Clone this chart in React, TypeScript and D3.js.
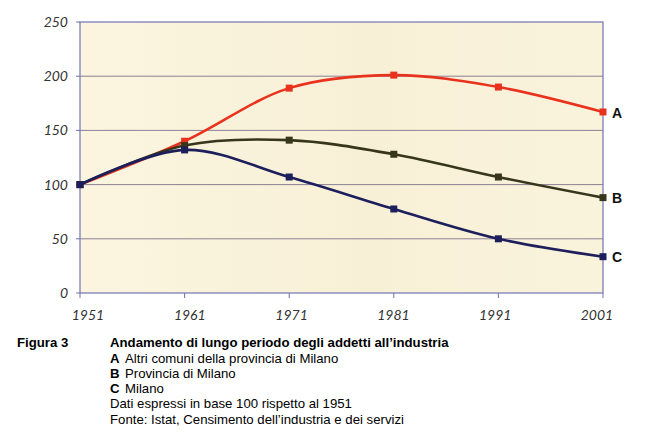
import React from "react";
import * as d3 from "d3";

const years = [1951, 1961, 1971, 1981, 1991, 2001];
const seriesA = [100, 140, 189, 201, 190, 167];
const seriesB = [100, 136, 141, 128, 107, 88];
const seriesC = [100, 132, 107, 77.5, 50, 33.5];
const seriesLabels = ["A", "B", "C"];
const yTicks = [0, 50, 100, 150, 200, 250];
const captionFig = "Figura 3";
const captionTitle = "Andamento di lungo periodo degli addetti all\u2019industria";
const legendNames = ["Altri comuni della provincia di Milano", "Provincia di Milano", "Milano"];
const notes = ["Dati espressi in base 100 rispetto al 1951", "Fonte: Istat, Censimento dell\u2019industria e dei servizi"];

const colors = ["#e8321e", "#36361a", "#1c1f5c"];

export default function App() {
  const W = 650, H = 439;
  const left = 80, right = 603, top = 22, bottom = 293;
  const x = d3.scaleLinear().domain([1951, 2001]).range([left, right]);
  const y = d3.scaleLinear().domain([0, 250]).range([bottom, top]);
  const line = d3
    .line<number>()
    .x((_, i) => x(years[i]))
    .y((d) => y(d))
    .curve(d3.curveCatmullRom.alpha(0.5));
  const all = [seriesA, seriesB, seriesC];
  const tickFont = "Lato, 'Open Sans', sans-serif";
  const capFont = "'Liberation Sans', Arial, sans-serif";
  return (
    <svg width={W} height={H} style={{ position: "absolute", left: 0, top: 0, background: "#fff" }}>
      <defs>
        <linearGradient id="bg" x1="0" y1="0" x2="1" y2="0">
          <stop offset="0" stopColor="#fbf5e0" />
          <stop offset="0.55" stopColor="#f8f0d6" />
          <stop offset="1" stopColor="#faf3dc" />
        </linearGradient>
      </defs>
      <rect x={left} y={top} width={right - left} height={bottom - top} fill="url(#bg)" />
      {yTicks.map((t) => (
        <g key={t}>
          {t > 0 && t < 250 && (
            <line x1={left} x2={right} y1={y(t)} y2={y(t)} stroke="#8c8096" strokeWidth={1} />
          )}
          <line x1={left - 4} x2={left} y1={y(t)} y2={y(t)} stroke="#7070b0" strokeWidth={1} />
          <text
            x={68}
            y={y(t)}
            dy="0.35em"
            textAnchor="end"
            fontFamily={tickFont}
            fontStyle="italic"
            fontSize={14}
            fill="#333"
          >
            {t}
          </text>
        </g>
      ))}
      <rect x={left} y={top} width={right - left} height={bottom - top} fill="none" stroke="#7474b4" strokeWidth={1.2} />
      {years.map((yr) => (
        <g key={yr}>
          <line x1={x(yr)} x2={x(yr)} y1={bottom} y2={bottom + 5} stroke="#7070b0" strokeWidth={1} />
          <text
            x={x(yr) + 8 - ((x(yr) - left) / (right - left)) * 14}
            y={320}
            textAnchor="middle"
            fontFamily={tickFont}
            fontStyle="italic"
            fontSize={14}
            fill="#333"
          >
            {yr}
          </text>
        </g>
      ))}
      {all.map((s, k) => (
        <g key={k}>
          <path d={line(s) || ""} fill="none" stroke={colors[k]} strokeWidth={2.6} />
          {s.map((v, i) => (
            <rect key={i} x={x(years[i]) - 3.5} y={y(v) - 3.5} width={7} height={7} fill={colors[k]} />
          ))}
          <text
            x={612}
            y={y(s[s.length - 1])}
            dy="0.4em"
            fontFamily={capFont}
            fontWeight="bold"
            fontSize={14}
            fill="#111"
          >
            {seriesLabels[k]}
          </text>
        </g>
      ))}
      <g fontFamily={capFont} fontSize={13.2} fill="#000">
        <text x={17} y={347} fontWeight="bold">{captionFig}</text>
        <text x={110} y={347} fontWeight="bold">{captionTitle}</text>
        {legendNames.map((n, i) => (
          <g key={n}>
            <text x={110} y={362.5 + i * 15.3} fontWeight="bold">{seriesLabels[i]}</text>
            <text x={125} y={362.5 + i * 15.3}>{n}</text>
          </g>
        ))}
        {notes.map((n, i) => (
          <text key={n} x={110} y={362.5 + (3 + i) * 15.3}>{n}</text>
        ))}
      </g>
    </svg>
  );
}
